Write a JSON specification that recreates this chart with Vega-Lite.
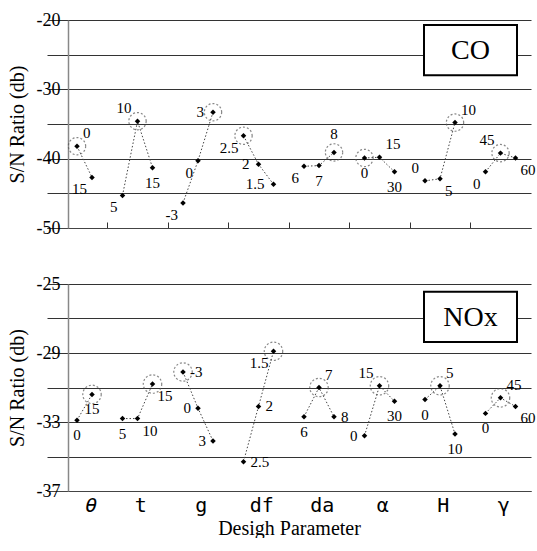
{
  "$schema": "https://vega.github.io/schema/vega-lite/v6.json",
  "padding": {"left": 7, "top": 11, "right": 0, "bottom": 0},
  "background": "white",
  "spacing": 38,
  "config": {
    "view": {"stroke": null},
    "axis": {
      "labelFont": "Liberation Serif",
      "titleFont": "Liberation Serif",
      "labelColor": "black",
      "titleColor": "black",
      "titleFontWeight": "normal"
    }
  },
  "datasets": {
    "co": [
      {"param": "θ", "lvl": "0", "idx": 1, "v": -38.2, "pos": "ur", "opt": true},
      {"param": "θ", "lvl": "15", "idx": 2, "v": -42.7, "pos": "ll", "opt": false},
      {"param": "t", "lvl": "5", "idx": 0, "v": -45.3, "pos": "ll", "opt": false},
      {"param": "t", "lvl": "10", "idx": 1, "v": -34.6, "pos": "ul", "opt": true},
      {"param": "t", "lvl": "15", "idx": 2, "v": -41.3, "pos": "b", "opt": false},
      {"param": "g", "lvl": "-3", "idx": 0, "v": -46.4, "pos": "ll", "opt": false},
      {"param": "g", "lvl": "0", "idx": 1, "v": -40.3, "pos": "ll", "opt": false},
      {"param": "g", "lvl": "3", "idx": 2, "v": -33.3, "pos": "l", "opt": true},
      {"param": "df", "lvl": "2.5", "idx": 0, "v": -36.7, "pos": "ll", "opt": true},
      {"param": "df", "lvl": "2", "idx": 1, "v": -40.8, "pos": "l", "opt": false},
      {"param": "df", "lvl": "1.5", "idx": 2, "v": -43.7, "pos": "l", "opt": false},
      {"param": "da", "lvl": "6", "idx": 0, "v": -41.1, "pos": "ll", "opt": false},
      {"param": "da", "lvl": "7", "idx": 1, "v": -41.0, "pos": "b", "opt": false},
      {"param": "da", "lvl": "8", "idx": 2, "v": -39.1, "pos": "t", "opt": true},
      {"param": "α", "lvl": "0", "idx": 0, "v": -39.9, "pos": "b", "opt": true},
      {"param": "α", "lvl": "15", "idx": 1, "v": -39.8, "pos": "ur", "opt": false},
      {"param": "α", "lvl": "30", "idx": 2, "v": -41.9, "pos": "b", "opt": false},
      {"param": "H", "lvl": "0", "idx": 0, "v": -43.2, "pos": "ul", "opt": false},
      {"param": "H", "lvl": "5", "idx": 1, "v": -42.9, "pos": "lr", "opt": false},
      {"param": "H", "lvl": "10", "idx": 2, "v": -34.8, "pos": "ur", "opt": true},
      {"param": "γ", "lvl": "0", "idx": 0, "v": -41.9, "pos": "ll", "opt": false},
      {"param": "γ", "lvl": "45", "idx": 1, "v": -39.2, "pos": "ul", "opt": true},
      {"param": "γ", "lvl": "60", "idx": 2, "v": -39.9, "pos": "lr", "opt": false}
    ],
    "nox": [
      {"param": "θ", "lvl": "0", "idx": 1, "v": -32.9, "pos": "b", "opt": false},
      {"param": "θ", "lvl": "15", "idx": 2, "v": -31.4, "pos": "b", "opt": true},
      {"param": "t", "lvl": "5", "idx": 0, "v": -32.8, "pos": "b", "opt": false},
      {"param": "t", "lvl": "10", "idx": 1, "v": -32.8, "pos": "lr", "opt": false},
      {"param": "t", "lvl": "15", "idx": 2, "v": -30.8, "pos": "lr", "opt": true},
      {"param": "g", "lvl": "-3", "idx": 0, "v": -30.1, "pos": "r", "opt": true},
      {"param": "g", "lvl": "0", "idx": 1, "v": -32.2, "pos": "l", "opt": false},
      {"param": "g", "lvl": "3", "idx": 2, "v": -34.1, "pos": "l", "opt": false},
      {"param": "df", "lvl": "2.5", "idx": 0, "v": -35.3, "pos": "r", "opt": false},
      {"param": "df", "lvl": "2", "idx": 1, "v": -32.1, "pos": "r", "opt": false},
      {"param": "df", "lvl": "1.5", "idx": 2, "v": -28.9, "pos": "ll", "opt": true},
      {"param": "da", "lvl": "6", "idx": 0, "v": -32.7, "pos": "b", "opt": false},
      {"param": "da", "lvl": "7", "idx": 1, "v": -31.0, "pos": "ur", "opt": true},
      {"param": "da", "lvl": "8", "idx": 2, "v": -32.7, "pos": "r", "opt": false},
      {"param": "α", "lvl": "0", "idx": 0, "v": -33.8, "pos": "l", "opt": false},
      {"param": "α", "lvl": "15", "idx": 1, "v": -30.9, "pos": "ul", "opt": true},
      {"param": "α", "lvl": "30", "idx": 2, "v": -31.8, "pos": "b", "opt": false},
      {"param": "H", "lvl": "0", "idx": 0, "v": -31.7, "pos": "b", "opt": false},
      {"param": "H", "lvl": "5", "idx": 1, "v": -30.9, "pos": "ur", "opt": true},
      {"param": "H", "lvl": "10", "idx": 2, "v": -33.7, "pos": "b", "opt": false},
      {"param": "γ", "lvl": "0", "idx": 0, "v": -32.5, "pos": "b", "opt": false},
      {"param": "γ", "lvl": "45", "idx": 1, "v": -31.6, "pos": "ur", "opt": true},
      {"param": "γ", "lvl": "60", "idx": 2, "v": -32.1, "pos": "lr", "opt": false}
    ]
  },
  "vconcat": [
    {
      "width": 468,
      "height": 208,
      "data": {"name": "co"},
      "encoding": {
        "x": {
          "field": "param", "type": "nominal",
          "scale": {"domain": ["θ", "t", "g", "df", "da", "α", "H", "γ"], "range": [-21, 463], "paddingInner": 0, "paddingOuter": 0},
          "axis": {"labels": false, "title": null, "ticks": true, "tickSize": -6, "bandPosition": 0, "tickColor": "#333", "domainColor": "#444", "domainWidth": 1.2,
                   "tickOpacity": {"condition": {"test": "datum.value === 'θ'", "value": 0}, "value": 1}}
        },
        "y": {
          "field": "v", "type": "quantitative",
          "scale": {"domain": [-50, -20], "nice": false, "zero": false},
          "axis": {"values": [-50, -45, -40, -35, -30, -25, -20], "labelExpr": "datum.value % 10 === 0 ? ('' + datum.value) : ''",
                   "ticks": false, "labelFont": "Liberation Serif", "labelFontSize": 18, "labelPadding": 8,
                   "title": "S/N Ratio  (db)", "titleFont": "Liberation Serif", "titleFontSize": 20, "titlePadding": 9,
                   "gridColor": "#333", "gridWidth": 1, "domainColor": "#888", "domainWidth": 1.5}
        }
      },
      "layer": [
        {
          "mark": {"type": "line", "strokeDash": [1.5, 2], "color": "#444", "strokeWidth": 1},
          "encoding": {
            "xOffset": {"field": "idx", "type": "ordinal", "scale": {"type": "point", "domain": [0, 1, 2], "range": [15, 45], "padding": 0}},
            "detail": {"field": "param"},
            "order": {"field": "idx"}
          }
        },
        {
          "transform": [{"filter": "datum.opt"}],
          "mark": {"type": "point", "shape": "circle", "size": 300, "filled": false, "stroke": "#555", "strokeDash": [2, 2], "strokeWidth": 1.2},
          "encoding": {"xOffset": {"field": "idx", "type": "ordinal"}}
        },
        {
          "mark": {"type": "point", "shape": "diamond", "size": 30, "filled": true, "color": "black", "opacity": 1},
          "encoding": {"xOffset": {"field": "idx", "type": "ordinal"}}
        },
        {"transform": [{"filter": "datum.pos === 'ur'"}], "mark": {"type": "text", "dx": 6, "dy": -5, "align": "left", "baseline": "bottom", "font": "Liberation Serif", "fontSize": 15}, "encoding": {"xOffset": {"field": "idx", "type": "ordinal"}, "text": {"field": "lvl"}}},
        {"transform": [{"filter": "datum.pos === 'ul'"}], "mark": {"type": "text", "dx": -6, "dy": -5, "align": "right", "baseline": "bottom", "font": "Liberation Serif", "fontSize": 15}, "encoding": {"xOffset": {"field": "idx", "type": "ordinal"}, "text": {"field": "lvl"}}},
        {"transform": [{"filter": "datum.pos === 'll'"}], "mark": {"type": "text", "dx": -5, "dy": 5, "align": "right", "baseline": "top", "font": "Liberation Serif", "fontSize": 15}, "encoding": {"xOffset": {"field": "idx", "type": "ordinal"}, "text": {"field": "lvl"}}},
        {"transform": [{"filter": "datum.pos === 'lr'"}], "mark": {"type": "text", "dx": 5, "dy": 5, "align": "left", "baseline": "top", "font": "Liberation Serif", "fontSize": 15}, "encoding": {"xOffset": {"field": "idx", "type": "ordinal"}, "text": {"field": "lvl"}}},
        {"transform": [{"filter": "datum.pos === 'l'"}], "mark": {"type": "text", "dx": -9, "dy": 0, "align": "right", "baseline": "middle", "font": "Liberation Serif", "fontSize": 15}, "encoding": {"xOffset": {"field": "idx", "type": "ordinal"}, "text": {"field": "lvl"}}},
        {"transform": [{"filter": "datum.pos === 'r'"}], "mark": {"type": "text", "dx": 8, "dy": 0, "align": "left", "baseline": "middle", "font": "Liberation Serif", "fontSize": 15}, "encoding": {"xOffset": {"field": "idx", "type": "ordinal"}, "text": {"field": "lvl"}}},
        {"transform": [{"filter": "datum.pos === 't'"}], "mark": {"type": "text", "dx": 0, "dy": -10, "align": "center", "baseline": "bottom", "font": "Liberation Serif", "fontSize": 15}, "encoding": {"xOffset": {"field": "idx", "type": "ordinal"}, "text": {"field": "lvl"}}},
        {"transform": [{"filter": "datum.pos === 'b'"}], "mark": {"type": "text", "dx": 0, "dy": 8, "align": "center", "baseline": "top", "font": "Liberation Serif", "fontSize": 15}, "encoding": {"xOffset": {"field": "idx", "type": "ordinal"}, "text": {"field": "lvl"}}},
        {
          "data": {"values": [{"param": "γ", "v": -24.35, "label": "CO"}]},
          "mark": {"type": "point", "shape": "M-1,-0.54H1V0.54H-1Z", "size": 8649, "filled": true, "fill": "white", "stroke": "black", "strokeWidth": 2, "opacity": 1},
          "encoding": {"x": {"field": "param", "type": "nominal", "bandPosition": 0}}
        },
        {
          "data": {"values": [{"param": "γ", "v": -24.35, "label": "CO"}]},
          "mark": {"type": "text", "font": "Liberation Serif", "fontSize": 28, "align": "center", "baseline": "middle", "dy": 1},
          "encoding": {"x": {"field": "param", "type": "nominal", "bandPosition": 0}, "text": {"field": "label"}}
        }
      ]
    },
    {
      "width": 468,
      "height": 207,
      "data": {"name": "nox"},
      "encoding": {
        "x": {
          "field": "param", "type": "nominal",
          "scale": {"domain": ["θ", "t", "g", "df", "da", "α", "H", "γ"], "range": [-21, 463], "paddingInner": 0, "paddingOuter": 0},
          "axis": {"labels": true, "ticks": false, "labelAngle": 0, "labelFont": "DejaVu Sans Mono", "labelFontSize": 20, "labelPadding": 4,
                   "labelOffset": {"condition": {"test": "datum.value === 'θ'", "value": 14}, "value": 3},
                   "labelFontStyle": {"condition": {"test": "datum.value === 'θ'", "value": "italic"}, "value": "normal"},
                   "domainColor": "#444", "domainWidth": 1.2,
                   "title": "Desigh  Parameter", "titleFont": "Liberation Serif", "titleFontSize": 20, "titlePadding": 3}
        },
        "y": {
          "field": "v", "type": "quantitative",
          "scale": {"domain": [-37, -25], "nice": false, "zero": false},
          "axis": {"values": [-37, -35, -33, -31, -29, -27, -25], "labelExpr": "(datum.value + 25) % 4 === 0 ? ('' + datum.value) : ''",
                   "ticks": false, "labelFont": "Liberation Serif", "labelFontSize": 18, "labelPadding": 8,
                   "title": "S/N Ratio  (db)", "titleFont": "Liberation Serif", "titleFontSize": 20, "titlePadding": 9,
                   "gridColor": "#333", "gridWidth": 1, "domainColor": "#888", "domainWidth": 1.5}
        }
      },
      "layer": [
        {
          "mark": {"type": "line", "strokeDash": [1.5, 2], "color": "#444", "strokeWidth": 1},
          "encoding": {
            "xOffset": {"field": "idx", "type": "ordinal", "scale": {"type": "point", "domain": [0, 1, 2], "range": [15, 45], "padding": 0}},
            "detail": {"field": "param"},
            "order": {"field": "idx"}
          }
        },
        {
          "transform": [{"filter": "datum.opt"}],
          "mark": {"type": "point", "shape": "circle", "size": 340, "filled": false, "stroke": "#555", "strokeDash": [2, 2], "strokeWidth": 1.2},
          "encoding": {"xOffset": {"field": "idx", "type": "ordinal"}}
        },
        {
          "mark": {"type": "point", "shape": "diamond", "size": 30, "filled": true, "color": "black", "opacity": 1},
          "encoding": {"xOffset": {"field": "idx", "type": "ordinal"}}
        },
        {"transform": [{"filter": "datum.pos === 'ur'"}], "mark": {"type": "text", "dx": 6, "dy": -5, "align": "left", "baseline": "bottom", "font": "Liberation Serif", "fontSize": 15}, "encoding": {"xOffset": {"field": "idx", "type": "ordinal"}, "text": {"field": "lvl"}}},
        {"transform": [{"filter": "datum.pos === 'ul'"}], "mark": {"type": "text", "dx": -6, "dy": -5, "align": "right", "baseline": "bottom", "font": "Liberation Serif", "fontSize": 15}, "encoding": {"xOffset": {"field": "idx", "type": "ordinal"}, "text": {"field": "lvl"}}},
        {"transform": [{"filter": "datum.pos === 'll'"}], "mark": {"type": "text", "dx": -5, "dy": 5, "align": "right", "baseline": "top", "font": "Liberation Serif", "fontSize": 15}, "encoding": {"xOffset": {"field": "idx", "type": "ordinal"}, "text": {"field": "lvl"}}},
        {"transform": [{"filter": "datum.pos === 'lr'"}], "mark": {"type": "text", "dx": 5, "dy": 5, "align": "left", "baseline": "top", "font": "Liberation Serif", "fontSize": 15}, "encoding": {"xOffset": {"field": "idx", "type": "ordinal"}, "text": {"field": "lvl"}}},
        {"transform": [{"filter": "datum.pos === 'l'"}], "mark": {"type": "text", "dx": -7, "dy": 0, "align": "right", "baseline": "middle", "font": "Liberation Serif", "fontSize": 15}, "encoding": {"xOffset": {"field": "idx", "type": "ordinal"}, "text": {"field": "lvl"}}},
        {"transform": [{"filter": "datum.pos === 'r'"}], "mark": {"type": "text", "dx": 7, "dy": 0, "align": "left", "baseline": "middle", "font": "Liberation Serif", "fontSize": 15}, "encoding": {"xOffset": {"field": "idx", "type": "ordinal"}, "text": {"field": "lvl"}}},
        {"transform": [{"filter": "datum.pos === 't'"}], "mark": {"type": "text", "dx": 0, "dy": -10, "align": "center", "baseline": "bottom", "font": "Liberation Serif", "fontSize": 15}, "encoding": {"xOffset": {"field": "idx", "type": "ordinal"}, "text": {"field": "lvl"}}},
        {"transform": [{"filter": "datum.pos === 'b'"}], "mark": {"type": "text", "dx": 0, "dy": 8, "align": "center", "baseline": "top", "font": "Liberation Serif", "fontSize": 15}, "encoding": {"xOffset": {"field": "idx", "type": "ordinal"}, "text": {"field": "lvl"}}},
        {
          "data": {"values": [{"param": "γ", "v": -26.9, "label": "NOx"}]},
          "mark": {"type": "point", "shape": "M-1,-0.54H1V0.54H-1Z", "size": 8649, "filled": true, "fill": "white", "stroke": "black", "strokeWidth": 2, "opacity": 1},
          "encoding": {"x": {"field": "param", "type": "nominal", "bandPosition": 0}}
        },
        {
          "data": {"values": [{"param": "γ", "v": -26.9, "label": "NOx"}]},
          "mark": {"type": "text", "font": "Liberation Serif", "fontSize": 28, "align": "center", "baseline": "middle", "dy": 1},
          "encoding": {"x": {"field": "param", "type": "nominal", "bandPosition": 0}, "text": {"field": "label"}}
        }
      ]
    }
  ]
}
